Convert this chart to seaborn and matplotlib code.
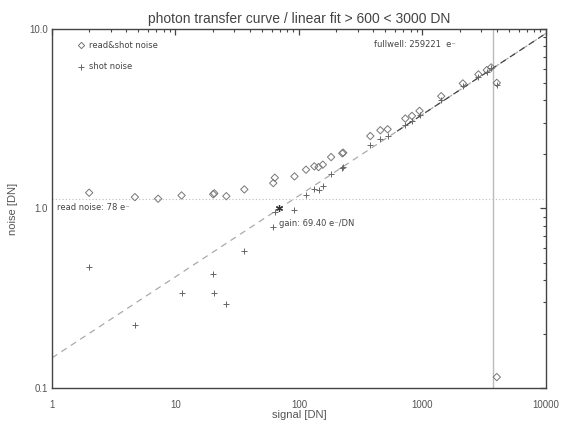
import numpy as np
import pandas as pd
import seaborn as sns
from matplotlib import pyplot as plt
from matplotlib.ticker import FixedLocator, FixedFormatter, LogLocator, NullFormatter

# read&shot noise (diamonds)
signal_rs = [2.0, 4.69, 7.23, 11.2, 20.2, 20.6, 25.8, 36.1, 61.9, 63.7, 91.9, 114, 133, 144, 156,
             182, 224, 228, 378, 456, 522, 726, 822, 946, 1418, 2123, 2837, 3317, 3594, 3996, 3996]
noise_rs = [1.224, 1.157, 1.133, 1.182, 1.20, 1.215, 1.171, 1.277, 1.385, 1.484, 1.509, 1.645, 1.717,
            1.701, 1.754, 1.934, 2.03, 2.045, 2.534, 2.728, 2.763, 3.171, 3.279, 3.497, 4.224, 4.973,
            5.583, 5.902, 6.109, 5.012, 0.115]

# shot noise (plus signs)
signal_s = [2.0, 4.69, 11.2, 20.2, 20.6, 25.8, 36.1, 61.9, 63.7, 91.9, 114, 133, 144, 156, 182,
            224, 228, 378, 456, 522, 726, 822, 946, 1418, 2123, 2837, 3317, 3594, 3996]
noise_s = [0.470, 0.225, 0.340, 0.432, 0.340, 0.294, 0.582, 0.786, 0.953, 0.983, 1.182, 1.289, 1.26,
           1.332, 1.549, 1.69, 1.71, 2.269, 2.452, 2.534, 2.935, 3.074, 3.308, 4.012, 4.804, 5.414,
           5.775, 6.031, 4.866]

gain = 69.40          # e-/DN
read_noise_e = 78     # e-
fullwell_e = 259221   # e-
fit_slope = 0.452
fit_range = (600, 3000)

read_noise_dn = read_noise_e / gain
fullwell_dn = fullwell_e / gain

xticks = [1, 10, 100, 1000, 10000]
xticklabels = ['1', '10', '100', '1000', '10000']
yticks = [0.1, 1.0, 10.0]
yticklabels = ['0.1', '1.0', '10.0']

sns.set_style('white')
plt.rcParams['font.family'] = ['Liberation Sans', 'DejaVu Sans']

df_rs = pd.DataFrame({'signal': signal_rs, 'noise': noise_rs})
df_s = pd.DataFrame({'signal': signal_s, 'noise': noise_s})

fig = plt.figure(figsize=(5.62, 4.25), dpi=100)
ax = fig.add_axes([0.0925, 0.0871, 0.879, 0.8447])
ax.set_xscale('log')
ax.set_yscale('log')
ax.set_xlim(1, 10000)
ax.set_ylim(0.1, 10.0)

# fit line: passes through (gain, 1 DN)
xs = np.logspace(0, 4, 200)
fit = (xs / gain) ** fit_slope
ax.plot(xs, fit, color='#aaaaaa', lw=0.9, ls=(0, (5, 4)), zorder=1)
m = xs >= fit_range[0]
ax.plot(xs[m], fit[m], color='#444444', lw=0.9, ls=(0, (5, 4)), zorder=1)

ax.axhline(read_noise_dn, color='#bbbbbb', lw=0.8, ls=(0, (1, 2)), zorder=0)
ax.axvline(fullwell_dn, color='#bbbbbb', lw=1, zorder=0)

sns.scatterplot(data=df_rs, x='signal', y='noise', ax=ax, marker='D', s=14,
                facecolor='none', edgecolor='#777777', linewidth=0.7, zorder=3)
sns.scatterplot(data=df_s, x='signal', y='noise', ax=ax, marker='+', s=20,
                color='#666666', linewidth=0.7, zorder=3)
ax.plot([gain], [1.0], marker=(6, 2, 0), ms=5, color='#333333', mew=0.9, zorder=4)

ax.xaxis.set_major_locator(FixedLocator(xticks))
ax.xaxis.set_major_formatter(FixedFormatter(xticklabels))
ax.yaxis.set_major_locator(FixedLocator(yticks))
ax.yaxis.set_major_formatter(FixedFormatter(yticklabels))
for a in (ax.xaxis, ax.yaxis):
    a.set_minor_locator(LogLocator(base=10, subs=np.arange(2, 10)))
    a.set_minor_formatter(NullFormatter())
ax.tick_params(which='both', direction='in', top=True, right=True, color='#444444',
               labelcolor='#555555', labelsize=7)
ax.tick_params(which='major', length=4.5, width=0.9)
ax.tick_params(which='minor', length=2.5, width=0.8)
ax.tick_params(axis='x', which='major', pad=9)
ax.tick_params(axis='y', which='major', pad=3)
for s in ax.spines.values():
    s.set_color('#444444')
    s.set_linewidth(1)

ax.set_xlabel('signal [DN]', color='#555555', fontsize=8)
ax.xaxis.set_label_coords(0.5, -0.060)
ax.set_ylabel('noise [DN]', color='#555555', fontsize=8, labelpad=8)
ax.set_title('photon transfer curve / linear fit > %d < %d DN' % fit_range,
             color='#444444', fontsize=10, pad=4)

txt = dict(fontsize=6, color='#444444', family='DejaVu Sans', va='center', ha='left')
ax.plot([0.0587], [0.955], transform=ax.transAxes, marker='D', ms=3.2, mfc='none', mec='#777777', mew=0.7)
ax.text(0.0755, 0.955, 'read&shot noise', transform=ax.transAxes, **txt)
ax.plot([0.0587], [0.895], transform=ax.transAxes, marker='+', ms=4.5, color='#666666', mew=0.7)
ax.text(0.0755, 0.895, 'shot noise', transform=ax.transAxes, **txt)
ax.text(0.652, 0.958, 'fullwell: %d  e⁻' % fullwell_e, transform=ax.transAxes, **txt)
ax.annotate('read noise: %d e⁻' % read_noise_e, xy=(1, 1.0), xytext=(3.5, 1), textcoords='offset points',
            **txt)
ax.annotate('gain: %.2f e⁻/DN' % gain, xy=(gain, 1.0), xytext=(0, -10.5), textcoords='offset points',
            **txt)

plt.savefig('out.png', dpi=100)
